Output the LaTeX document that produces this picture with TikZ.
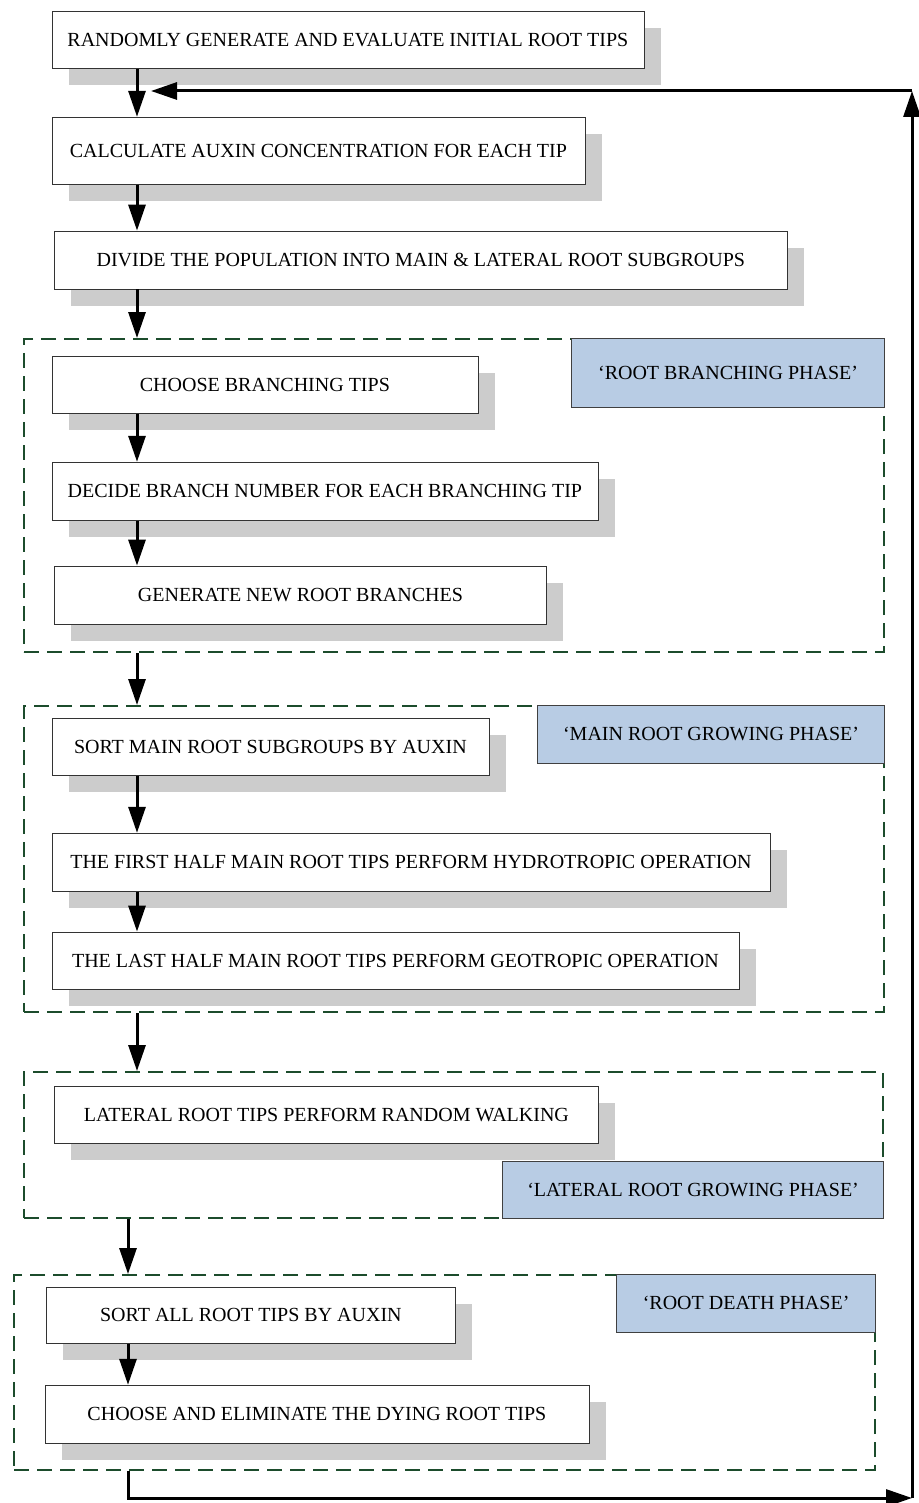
\documentclass[tikz,border=0pt]{standalone}
\usepackage{fontspec}
\setmainfont{Liberation Serif}
\usepackage{xcolor}
\usetikzlibrary{arrows.meta,positioning,shadows}
\definecolor{framegreen}{RGB}{28,76,44}
\definecolor{phaseblue}{RGB}{184,204,228}
\tikzset{
	taskbox/.style={draw=black!80, fill=white, line width=0.8pt, inner sep=0pt,
		align=center, minimum height=57pt,
		general shadow={fill=black!20, shadow xshift=17pt, shadow yshift=-17pt}},
	flow/.style={-{Triangle[length=26pt,width=17pt]}, line width=3pt},
	phaseframe/.style={draw=framegreen, line width=2pt, dash pattern=on 15pt off 8pt,
		inner sep=0pt, anchor=north west},
	phasetag/.style={draw=black!75, fill=phaseblue, line width=0.8pt, inner sep=0pt,
		minimum height=58pt}
}
\begin{document}
\begin{tikzpicture}[x=1pt, y=-1pt, font=\fontsize{20}{24}\selectfont]
	\useasboundingbox (0,0) rectangle (918,1503);
	
	%% -- Trunk of the flow
	\coordinate (spine) at (137,0);
	\coordinate (spinelow) at (128,0);
	
	%% -- Set-up steps
	\node[taskbox, minimum width=592pt, anchor=north west] (s1) at (51.5,11)
	{RANDOMLY GENERATE AND EVALUATE INITIAL ROOT TIPS};
	
	\node[taskbox, minimum width=533pt, minimum height=67pt,
	below right=48pt and 0pt of s1.south west] (s2)
	{CALCULATE AUXIN CONCENTRATION FOR EACH TIP};
	
	\node[taskbox, minimum width=733pt, minimum height=58pt,
	below right=46pt and 2.5pt of s2.south west] (s3)
	{DIVIDE THE POPULATION INTO MAIN \& LATERAL ROOT SUBGROUPS};
	
	%% -- Phase frames
	\node[phaseframe, minimum width=860pt, minimum height=313pt] (f1) at (23,338) {};
	\node[phaseframe, minimum width=860pt, minimum height=306pt] (f2) at (23,705) {};
	\node[phaseframe, minimum width=859pt, minimum height=146pt] (f3) at (23,1071) {};
	\node[phaseframe, minimum width=861pt, minimum height=195pt] (f4) at (13,1274) {};
	
	%% -- Phase tags
	\node[phasetag, minimum width=313pt, minimum height=69pt, anchor=north east]
	(t1) at (f1.north east) {`ROOT BRANCHING PHASE'};
	\node[phasetag, minimum width=347pt, anchor=north east]
	(t2) at (f2.north east) {`MAIN ROOT GROWING PHASE'};
	\node[phasetag, minimum width=381pt, minimum height=57pt, anchor=south east]
	(t3) at (f3.south east) {`LATERAL ROOT GROWING PHASE'};
	\node[phasetag, minimum width=259pt, anchor=north east]
	(t4) at (f4.north east) {`ROOT DEATH PHASE'};
	
	%% -- Root branching phase
	\node[taskbox, minimum width=426pt,
	below right=18pt and 28.5pt of f1.north west] (b1)
	{CHOOSE BRANCHING TIPS};
	
	\node[taskbox, minimum width=546pt, minimum height=58pt,
	below right=48pt and 0pt of b1.south west] (b2)
	{DECIDE BRANCH NUMBER FOR EACH BRANCHING TIP};
	
	\node[taskbox, minimum width=492pt, minimum height=58pt,
	below right=45pt and 2.5pt of b2.south west] (b3)
	{GENERATE NEW ROOT BRANCHES};
	
	%% -- Main root growing phase
	\node[taskbox, minimum width=437pt,
	below right=13pt and 28.5pt of f2.north west] (m1)
	{SORT MAIN ROOT SUBGROUPS BY AUXIN};
	
	\node[taskbox, minimum width=718pt, minimum height=58pt,
	below right=57pt and 0pt of m1.south west] (m2)
	{THE FIRST HALF MAIN ROOT TIPS PERFORM HYDROTROPIC OPERATION};
	
	\node[taskbox, minimum width=687pt,
	below right=40pt and 0pt of m2.south west] (m3)
	{THE LAST HALF MAIN ROOT TIPS PERFORM GEOTROPIC OPERATION};
	
	%% -- Lateral root growing phase
	\node[taskbox, minimum width=544pt,
	below right=15pt and 31pt of f3.north west] (g1)
	{LATERAL ROOT TIPS PERFORM RANDOM WALKING};
	
	%% -- Root death phase
	\node[taskbox, minimum width=409pt, minimum height=56pt,
	below right=13pt and 33pt of f4.north west] (d1)
	{SORT ALL ROOT TIPS BY AUXIN};
	
	\node[taskbox, minimum width=544pt, minimum height=58pt,
	below right=41pt and -1.5pt of d1.south west] (d2)
	{CHOOSE AND ELIMINATE THE DYING ROOT TIPS};
	
	%% -- Flow arrows
	\draw[flow] (s1.south -| spine) -- (s2.north -| spine);
	\draw[flow] (s2.south -| spine) -- (s3.north -| spine);
	\draw[flow] (s3.south -| spine) -- (f1.north -| spine);
	\draw[flow] (b1.south -| spine) -- (b2.north -| spine);
	\draw[flow] (b2.south -| spine) -- (b3.north -| spine);
	\draw[flow] (f1.south -| spine) -- (f2.north -| spine);
	\draw[flow] (m1.south -| spine) -- (m2.north -| spine);
	\draw[flow] (m2.south -| spine) -- (m3.north -| spine);
	\draw[flow] (f2.south -| spine) -- (f3.north -| spine);
	\draw[flow] (f3.south -| spinelow) -- (f4.north -| spinelow);
	\draw[flow] (d1.south -| spinelow) -- (d2.north -| spinelow);
	
	%% -- Loop back to the auxin step
	\coordinate (lowturn) at (128,1498);
	\coordinate (rightlow) at (912,1498);
	\coordinate (righttop) at (912,91);
	\coordinate (entry) at (151,91);
	\draw[flow] (f4.south -| spinelow) -- (lowturn) -- (rightlow);
	\draw[flow] (rightlow) -- (righttop);
	\draw[flow] (righttop) -- (entry);
	
\end{tikzpicture}
\end{document}
